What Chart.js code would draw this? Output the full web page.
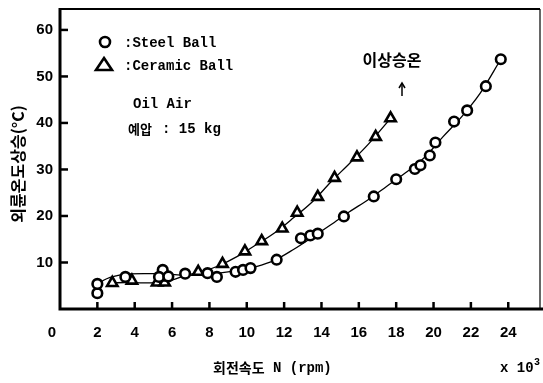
<!DOCTYPE html>
<html>
<head>
<meta charset="utf-8">
<script src="https://cdn.jsdelivr.net/npm/chart.js@4/dist/chart.umd.min.js"></script>
<style>
  html, body { margin: 0; padding: 0; background: #fff; }
  #wrap { width: 543px; height: 383px; position: relative; }
</style>
</head>
<body>
<div id="wrap"><canvas id="c" width="543" height="383"></canvas></div>
<script>
// Outer-race temperature rise vs. spindle speed (x 10^3 rpm)
const xTicks = [0, 2, 4, 6, 8, 10, 12, 14, 16, 18, 20, 22, 24];
const yTicks = [0, 10, 20, 30, 40, 50, 60];

// Steel ball: measured points
const steelN = [2.0, 2.0, 3.5, 5.5, 5.3, 5.8, 6.7, 7.9, 8.4, 9.4, 9.8, 10.2, 11.6, 12.9, 13.4, 13.8, 15.2, 16.8, 18.0, 19.0, 19.3, 19.8, 20.1, 21.1, 21.8, 22.8, 23.6];
const steelT = [3.4, 5.4, 6.9, 8.4, 6.9, 7.0, 7.6, 7.7, 6.9, 8.0, 8.4, 8.8, 10.6, 15.2, 15.8, 16.2, 19.9, 24.2, 27.9, 30.1, 30.9, 33.0, 35.8, 40.3, 42.7, 47.9, 53.7];

// Ceramic ball: measured points
const ceramicN = [2.8, 3.85, 5.2, 5.6, 5.4, 7.4, 8.7, 9.9, 10.8, 11.9, 12.7, 13.8, 14.7, 15.9, 16.9, 17.7];
const ceramicT = [5.6, 6.1, 5.7, 5.7, 6.8, 8.0, 9.7, 12.4, 14.6, 17.3, 20.7, 24.1, 28.2, 32.6, 37.0, 41.0];

// Fitted trend curves
const steelCurveN = [2.0, 2.5, 3.0, 3.5, 4.5, 5.5, 6.5, 7.5, 8.5, 9.5, 10.5, 11.5, 12.5, 13.5, 14.5, 15.5, 16.5, 17.5, 18.5, 19.5, 20.5, 21.5, 22.5, 23.6];
const steelCurveT = [5.4, 6.5, 7.1, 7.5, 7.6, 7.6, 7.3, 7.3, 7.7, 8.3, 9.1, 10.5, 12.8, 15.4, 18.1, 20.9, 23.5, 26.4, 29.3, 32.5, 37.0, 41.3, 46.4, 53.7];
const ceramicCurveN = [2.8, 3.5, 4.5, 5.5, 6.2, 6.8, 7.5, 8.5, 9.5, 10.5, 11.5, 12.5, 13.5, 14.5, 15.5, 16.5, 17.7];
const ceramicCurveT = [5.6, 5.7, 5.6, 5.7, 6.5, 7.3, 7.9, 9.3, 11.3, 13.8, 16.4, 19.6, 23.0, 27.3, 31.3, 35.4, 41.0];

const pts = (xs, ys) => xs.map((x, i) => ({ x: x, y: ys[i] }));

const MONO = '"Liberation Mono", "DejaVu Sans Mono", monospace';
const NARROW = '"Liberation Sans Narrow", "Liberation Sans", sans-serif';
const KR = '"Noto Sans CJK KR", sans-serif';

const decorations = {
  id: 'decorations',
  afterDatasetsDraw(chart) {
    const ctx = chart.ctx;
    const a = chart.chartArea;
    const xs = chart.scales.x, ys = chart.scales.y;
    ctx.save();
    ctx.strokeStyle = '#000';
    ctx.fillStyle = '#000';

    // frame
    ctx.lineWidth = 2;
    ctx.beginPath(); ctx.moveTo(a.left, a.top); ctx.lineTo(a.right, a.top); ctx.stroke();
    ctx.lineWidth = 1.2;
    ctx.beginPath(); ctx.moveTo(a.right, a.top); ctx.lineTo(a.right, a.bottom); ctx.stroke();
    ctx.lineWidth = 3;
    ctx.beginPath(); ctx.moveTo(a.left, a.top - 1); ctx.lineTo(a.left, a.bottom); ctx.lineTo(543, a.bottom); ctx.stroke();

    // inward tick marks
    ctx.lineWidth = 2.5;
    yTicks.forEach(v => {
      if (v === 0) return;
      const py = ys.getPixelForValue(v);
      ctx.beginPath(); ctx.moveTo(a.left, py); ctx.lineTo(a.left + 8, py); ctx.stroke();
    });
    xTicks.forEach(v => {
      if (v === 0) return;
      const px = xs.getPixelForValue(v);
      ctx.beginPath(); ctx.moveTo(px, a.bottom); ctx.lineTo(px, a.bottom - 7); ctx.stroke();
    });

    // origin label
    ctx.font = 'bold 15px ' + NARROW;
    ctx.textAlign = 'center';
    ctx.textBaseline = 'middle';
    ctx.fillText('0', 52, 333);

    // legend
    ctx.lineWidth = 2.6;
    ctx.beginPath(); ctx.arc(105, 42, 5, 0, Math.PI * 2); ctx.stroke();
    ctx.beginPath();
    ctx.moveTo(104, 58); ctx.lineTo(112, 70); ctx.lineTo(96, 70); ctx.closePath(); ctx.stroke();

    ctx.textAlign = 'left';
    ctx.font = 'bold 14px ' + MONO;
    ctx.fillText(':Steel Ball', 124, 43);
    ctx.fillText(':Ceramic Ball', 124, 66);
    ctx.fillText('Oil Air', 133, 104);
    ctx.font = 'bold 13px ' + KR;
    ctx.fillText('예압', 128, 129);
    ctx.font = 'bold 14px ' + MONO;
    ctx.fillText(': 15 kg', 162, 129);

    // abnormal temperature rise note
    ctx.textAlign = 'center';
    ctx.font = 'bold 16px ' + KR;
    ctx.fillText('이상승온', 392, 60);
    ctx.lineWidth = 1.5;
    ctx.beginPath(); ctx.moveTo(402, 96); ctx.lineTo(402, 84); ctx.stroke();
    ctx.beginPath(); ctx.moveTo(399, 88); ctx.lineTo(402, 83); ctx.lineTo(405, 88); ctx.stroke();

    // axis titles
    ctx.font = 'bold 14px ' + KR;
    ctx.textAlign = 'left';
    const t1 = '회전속도';
    ctx.fillText(t1, 213, 368);
    const w1 = ctx.measureText(t1).width;
    ctx.font = 'bold 14px ' + MONO;
    ctx.fillText(' N (rpm)', 213 + w1, 368);

    ctx.fillText('x 10', 500, 368);
    ctx.font = 'bold 10px ' + MONO;
    ctx.fillText('3', 534, 362);

    ctx.save();
    ctx.translate(18, 164);
    ctx.rotate(-Math.PI / 2);
    ctx.textAlign = 'center';
    ctx.font = 'bold 16px ' + KR;
    ctx.fillText('외륜온도상승(°C)', 0, 0);
    ctx.restore();

    ctx.restore();
  }
};

new Chart(document.getElementById('c'), {
  type: 'scatter',
  data: {
    datasets: [
      { label: 'Steel Ball', data: pts(steelN, steelT), pointStyle: 'circle', pointRadius: 4.8,
        borderColor: '#000', backgroundColor: '#fff', pointBorderWidth: 2.6, showLine: false, order: 1 },
      { label: 'Ceramic Ball', data: pts(ceramicN, ceramicT), pointStyle: 'triangle', pointRadius: 6,
        borderColor: '#000', backgroundColor: '#fff', pointBorderWidth: 2.6, showLine: false, order: 1 },
      { label: 'steel fit', data: pts(steelCurveN, steelCurveT), showLine: true, pointRadius: 0,
        borderColor: '#000', borderWidth: 1.3, cubicInterpolationMode: 'monotone', order: 2 },
      { label: 'ceramic fit', data: pts(ceramicCurveN, ceramicCurveT), showLine: true, pointRadius: 0,
        borderColor: '#000', borderWidth: 1.3, cubicInterpolationMode: 'monotone', order: 2 }
    ]
  },
  options: {
    responsive: false,
    animation: false,
    layout: { autoPadding: false, padding: { top: 9, right: 3, left: 0, bottom: 0 } },
    plugins: { legend: { display: false }, tooltip: { enabled: false } },
    scales: {
      x: {
        type: 'linear', min: 0, max: 25.7,
        afterBuildTicks: s => { s.ticks = xTicks.map(v => ({ value: v })); },
        afterFit: s => { s.height = 74; s.paddingLeft = 0; s.paddingRight = 0; },
        grid: { display: false, drawTicks: false },
        border: { display: false },
        ticks: { padding: 15, color: '#000', font: { family: NARROW, size: 15, weight: 'bold' },
                 callback: v => (v === 0 ? '' : String(v)) }
      },
      y: {
        type: 'linear', min: 0, max: 64.5,
        afterBuildTicks: s => { s.ticks = yTicks.map(v => ({ value: v })); },
        afterFit: s => { s.width = 60; s.paddingTop = 0; s.paddingBottom = 0; },
        grid: { display: false, drawTicks: false },
        border: { display: false },
        ticks: { padding: 7, color: '#000', font: { family: NARROW, size: 15, weight: 'bold' },
                 callback: v => (v === 0 ? '' : String(v)) }
      }
    }
  },
  plugins: [decorations]
});
</script>
</body>
</html>
